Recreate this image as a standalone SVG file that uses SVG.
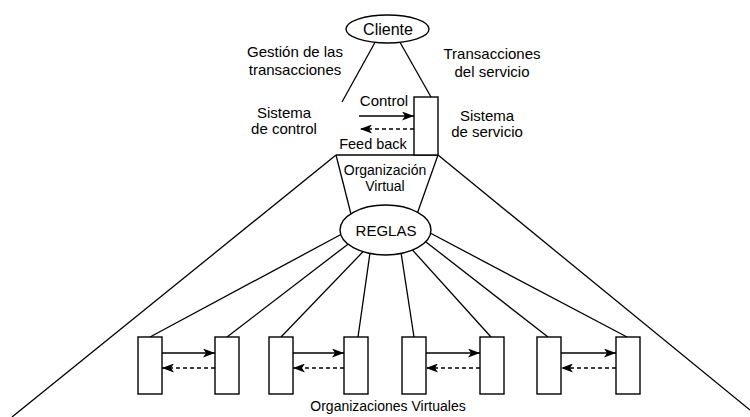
<svg xmlns="http://www.w3.org/2000/svg" width="750" height="417" viewBox="0 0 750 417">
<style>
.ln{stroke:#000;stroke-width:1.3;fill:none}
.dash{stroke:#000;stroke-width:1.3;fill:none;stroke-dasharray:4 3}
.box{fill:#fff;stroke:#000;stroke-width:1.4}
.t{font-family:"Liberation Sans",Arial,sans-serif;font-size:15px;fill:#000;text-anchor:middle}
.s{font-size:14px}
.m{font-size:14.5px}
.l{font-size:16px}
</style>
<defs>
<marker id="ah" viewBox="0 0 12 9" refX="12" refY="4.5" markerWidth="12" markerHeight="9" markerUnits="userSpaceOnUse" orient="auto">
<path d="M0,0 L12,4.5 L0,9 L3,4.5 z" fill="#000"/>
</marker>
</defs>
<rect width="750" height="417" fill="#fff"/>
<g id="connectors">
<line class="ln" x1="378" y1="37" x2="342" y2="102"/>
<line class="ln" x1="397" y1="37" x2="431" y2="97"/>
<line class="ln" x1="336" y1="155" x2="438" y2="155"/>
<line class="ln" x1="336" y1="155" x2="353.5" y2="224"/>
<line class="ln" x1="438" y1="155" x2="413.5" y2="224"/>
<line class="ln" x1="336" y1="155" x2="12" y2="417"/>
<line class="ln" x1="438" y1="155" x2="750" y2="410"/>
<line class="ln" x1="150" y1="337" x2="348.8" y2="230.3"/>
<line class="ln" x1="227" y1="337" x2="350.9" y2="241.9"/>
<line class="ln" x1="281" y1="337" x2="363.9" y2="250.8"/>
<line class="ln" x1="358" y1="337" x2="370.4" y2="250.1"/>
<line class="ln" x1="414" y1="337" x2="400.5" y2="249.1"/>
<line class="ln" x1="491" y1="337" x2="410.3" y2="247.6"/>
<line class="ln" x1="548" y1="337" x2="422.1" y2="238.9"/>
<line class="ln" x1="627" y1="337" x2="421.2" y2="228.3"/>
<line class="ln" x1="359" y1="116" x2="414" y2="116" marker-end="url(#ah)"/>
<line class="dash" x1="414" y1="129" x2="360" y2="129" marker-end="url(#ah)"/>
<line class="ln" x1="162" y1="353" x2="215" y2="353" marker-end="url(#ah)"/>
<line class="dash" x1="215" y1="368" x2="162" y2="368" marker-end="url(#ah)"/>
<line class="ln" x1="293" y1="353" x2="344" y2="353" marker-end="url(#ah)"/>
<line class="dash" x1="344" y1="368" x2="293" y2="368" marker-end="url(#ah)"/>
<line class="ln" x1="426" y1="353" x2="480" y2="353" marker-end="url(#ah)"/>
<line class="dash" x1="480" y1="368" x2="426" y2="368" marker-end="url(#ah)"/>
<line class="ln" x1="561" y1="353" x2="616" y2="353" marker-end="url(#ah)"/>
<line class="dash" x1="616" y1="368" x2="561" y2="368" marker-end="url(#ah)"/>
</g>
<g id="cliente">
<ellipse class="box" cx="387.5" cy="29" rx="41.5" ry="14"/>
<text class="t l" x="388" y="35">Cliente</text>
</g>
<g id="sistema-servicio">
<rect class="box" x="414" y="97" width="24" height="58"/>
</g>
<g id="reglas">
<ellipse class="box" cx="385.5" cy="230" rx="45.5" ry="25"/>
<text class="t" x="386" y="236">REGLAS</text>
</g>
<g id="vo1"><rect class="box" x="138" y="337" width="24" height="57"/></g>
<g id="vo2"><rect class="box" x="215" y="337" width="24" height="57"/></g>
<g id="vo3"><rect class="box" x="269" y="337" width="24" height="57"/></g>
<g id="vo4"><rect class="box" x="344" y="337" width="24" height="57"/></g>
<g id="vo5"><rect class="box" x="402" y="337" width="24" height="57"/></g>
<g id="vo6"><rect class="box" x="480" y="337" width="24" height="57"/></g>
<g id="vo7"><rect class="box" x="537" y="337" width="24" height="57"/></g>
<g id="vo8"><rect class="box" x="616" y="337" width="24" height="57"/></g>
<g id="labels">
<text class="t" x="295" y="57">Gestión de las</text>
<text class="t" x="295" y="75">transacciones</text>
<text class="t" x="492" y="59">Transacciones</text>
<text class="t" x="492" y="77">del servicio</text>
<text class="t" x="284" y="118">Sistema</text>
<text class="t" x="284" y="134">de control</text>
<text class="t" x="487" y="121">Sistema</text>
<text class="t" x="487" y="137">de servicio</text>
<text class="t" x="384" y="106">Control</text>
<text class="t m" x="373" y="149">Feed back</text>
<text class="t s" x="385" y="175">Organización</text>
<text class="t s" x="385" y="191">Virtual</text>
<text class="t s" x="388" y="411">Organizaciones Virtuales</text>
</g>
</svg>
